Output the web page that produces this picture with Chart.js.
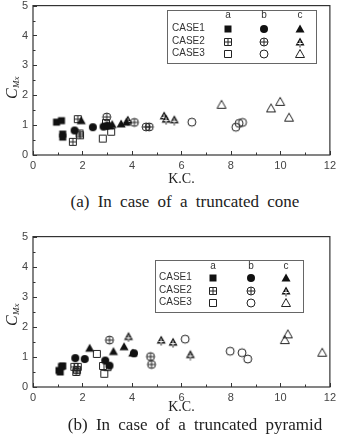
<!DOCTYPE html>
<html>
<head>
<meta charset="utf-8">
<script src="https://cdn.jsdelivr.net/npm/chart.js@4.4.1/dist/chart.umd.min.js"></script>
<style>
    body { margin: 0; background: #fff; width: 340px; height: 441px; position: relative; overflow: hidden; }
    canvas { position: absolute; left: 0; }
    #coneChart { top: -6px; }
    #pyramidChart { top: 225px; }
    .caption {
        position: absolute; left: 0; width: 340px; text-align: center;
        font-family: 'Liberation Serif', serif; font-size: 17px; color: #222;
        word-spacing: 4px; line-height: 18px; box-sizing: border-box; white-space: nowrap;
    }
</style>
</head>
<body>
<canvas id="coneChart" width="340" height="196"></canvas>
<div class="caption" id="capA" style="top:193px; padding-left:30px;">(a) In case of a truncated cone</div>
<canvas id="pyramidChart" width="340" height="197"></canvas>
<div class="caption" id="capB" style="top:416px; padding-left:50px;">(b) In case of a truncated pyramid</div>
<script>
// axis ticks
const kcTicks = [0, 2, 4, 6, 8, 10, 12];
const cmxTicks = [0, 1, 2, 3, 4, 5];

const caseNames = ['CASE1', 'CASE2', 'CASE3'];
const colNames = ['a', 'b', 'c'];

// (a) truncated cone  -- [K.C., C_Mx]
const cone1a = [[0.95, 1.1], [1.15, 1.15], [1.2, 0.7], [1.2, 0.6]];
const cone1b = [[1.68, 0.82], [2.42, 0.93], [2.85, 0.95], [3.0, 0.98]];
const cone1c = [[1.95, 1.15], [3.1, 0.97], [3.2, 1.02], [3.56, 1.04], [3.78, 1.1]];
const cone2a = [[1.81, 1.2], [1.88, 0.72], [1.9, 0.66], [1.61, 0.44]];
const cone2b = [[2.98, 1.27], [4.1, 1.09], [4.57, 0.94], [4.7, 0.94]];
const cone2c = [[3.83, 1.17], [5.3, 1.31], [5.38, 1.2], [5.71, 1.18]];
const cone3a = [[2.82, 0.55], [2.95, 1.07], [3.16, 0.78]];
const cone3b = [[6.42, 1.1], [8.2, 0.93], [8.33, 1.06], [8.47, 1.09]];
const cone3c = [[7.62, 1.68], [9.62, 1.56], [9.99, 1.78], [10.35, 1.25]];

// (b) truncated pyramid
const pyr1a = [[1.05, 0.55], [1.1, 0.5], [1.15, 0.68], [1.2, 0.7]];
const pyr1b = [[1.71, 0.96], [2.09, 0.93], [2.92, 0.88], [3.09, 0.71], [4.08, 1.12]];
const pyr1c = [[2.29, 1.29], [3.25, 1.18], [3.68, 1.34], [4.03, 1.13]];
const pyr2a = [[1.67, 0.67], [1.81, 0.67], [1.75, 0.5], [1.78, 0.56]];
const pyr2b = [[3.09, 1.56], [4.75, 1.01], [4.79, 0.75]];
const pyr2c = [[3.86, 1.68], [5.18, 1.56], [5.66, 1.49], [6.36, 1.08]];
const pyr3a = [[2.58, 1.1], [2.83, 0.7], [2.88, 0.44], [3.01, 0.66]];
const pyr3b = [[6.15, 1.59], [7.97, 1.19], [8.45, 1.14], [8.68, 0.93]];
const pyr3c = [[10.18, 1.56], [10.3, 1.75], [11.69, 1.14]];

// marker images: shape by column (a,b,c), style by case (filled, crossed, open)
function makeMarker(shape, style) {
    const c = document.createElement('canvas');
    c.width = 12; c.height = 12;
    const g = c.getContext('2d');
    g.strokeStyle = '#222';
    g.fillStyle = '#111';
    g.lineWidth = 1;
    g.beginPath();
    if (shape === 'square') g.rect(2.5, 2.5, 7, 7);
    else if (shape === 'circle') g.arc(6, 6, 4, 0, Math.PI * 2);
    else { g.moveTo(6, 1.5); g.lineTo(10.5, 9.5); g.lineTo(1.5, 9.5); g.closePath(); }
    if (style === 'filled') {
        g.fill();
    } else if (style === 'crossed' && shape === 'triangle') {
        g.fill();
        g.beginPath();
        g.strokeStyle = '#fff';
        g.moveTo(6, 4.5); g.lineTo(6, 9.5);
        g.moveTo(3.5, 7.5); g.lineTo(8.5, 7.5);
        g.stroke();
        g.strokeStyle = '#222';
        g.beginPath(); g.moveTo(6, 9.5); g.lineTo(6, 11.5); g.stroke();
    } else {
        g.stroke();
        if (style === 'crossed') {
            g.beginPath();
            g.moveTo(6, 2); g.lineTo(6, 10);
            g.moveTo(2, 6); g.lineTo(10, 6);
            g.stroke();
        }
    }
    return c;
}

const shapes = ['square', 'circle', 'triangle'];
const styles = ['filled', 'crossed', 'open'];
const markers = styles.map(st => shapes.map(sh => makeMarker(sh, st)));

function toPoints(arr) {
    return arr.map(p => ({ x: p[0], y: p[1] }));
}

function buildDatasets(groups) {
    const ds = [];
    groups.forEach((row, r) => {
        row.forEach((arr, c) => {
            ds.push({
                label: caseNames[r] + ' ' + colNames[c],
                data: toPoints(arr),
                pointStyle: markers[r][c],
                showLine: false
            });
        });
    });
    return ds;
}

// frame, inward ticks, legend box and y title
const framePlugin = {
    id: 'frame',
    afterDraw(chart, args, opts) {
        const { ctx, chartArea: a, scales: { x, y } } = chart;
        ctx.save();
        ctx.strokeStyle = '#333';
        ctx.lineWidth = 1.2;
        ctx.strokeRect(a.left, a.top, a.right - a.left, a.bottom - a.top);
        ctx.lineWidth = 1;
        ctx.beginPath();
        for (let v = 0; v <= 12; v++) {
            const px = Math.round(x.getPixelForValue(v)) + 0.5;
            const len = v % 2 === 0 ? 4 : 2.5;
            ctx.moveTo(px, a.bottom); ctx.lineTo(px, a.bottom - len);
        }
        for (let v = 0; v <= 5; v += 0.5) {
            const py = Math.round(y.getPixelForValue(v)) + 0.5;
            const len = v % 1 === 0 ? 4 : 2.5;
            ctx.moveTo(a.left, py); ctx.lineTo(a.left + len, py);
        }
        ctx.stroke();

        // y title C_Mx
        ctx.translate(13, opts.titleY);
        ctx.rotate(-Math.PI / 2);
        ctx.fillStyle = '#222';
        ctx.textBaseline = 'middle';
        ctx.textAlign = 'left';
        ctx.font = 'italic 16px "Liberation Serif", serif';
        const cw = ctx.measureText('C').width;
        ctx.font = 'italic 9px "Liberation Serif", serif';
        const sw = ctx.measureText('Mx').width;
        const x0 = -(cw + sw) / 2;
        ctx.font = 'italic 16px "Liberation Serif", serif';
        ctx.fillText('C', x0, 0);
        ctx.font = 'italic 9px "Liberation Serif", serif';
        ctx.fillText('Mx', x0 + cw + 0.5, 4);
        ctx.restore();

        // legend
        const L = opts.legend;
        ctx.save();
        ctx.strokeStyle = '#666';
        ctx.lineWidth = 1;
        ctx.strokeRect(L.left + 0.5, L.top + 0.5, L.width, L.height);
        ctx.fillStyle = '#333';
        ctx.font = '10px "Liberation Sans", Arial, sans-serif';
        ctx.textBaseline = 'middle';
        ctx.textAlign = 'center';
        colNames.forEach((n, c) => ctx.fillText(n, L.cols[c], L.headY));
        caseNames.forEach((n, r) => {
            ctx.textAlign = 'left';
            ctx.fillStyle = '#333';
            ctx.fillText(n, L.textX, L.rows[r]);
            L.cols.forEach((cx, c) => {
                ctx.drawImage(markers[r][c], Math.round(cx - 6), Math.round(L.rows[r] - 6));
            });
        });
        ctx.restore();
    }
};

function makeChart(id, groups, padTop, titlePad, legend, titleY) {
    return new Chart(document.getElementById(id), {
        type: 'scatter',
        data: { datasets: buildDatasets(groups) },
        options: {
            responsive: false,
            animation: false,
            events: [],
            layout: { padding: { top: padTop, right: 9, left: 0, bottom: 0 } },
            plugins: {
                legend: { display: false },
                tooltip: { enabled: false },
                frame: { legend: legend, titleY: titleY }
            },
            scales: {
                x: {
                    type: 'linear', min: 0, max: 12,
                    afterBuildTicks: s => { s.ticks = kcTicks.map(v => ({ value: v })); },
                    afterFit: s => { s.height = 35; },
                    grid: { display: false, drawTicks: false },
                    border: { display: false },
                    ticks: { padding: 4, color: '#444', font: { family: '"Liberation Sans", Arial, sans-serif', size: 11 } },
                    title: {
                        display: true, text: 'K.C.', color: '#222',
                        padding: { top: 0, bottom: titlePad },
                        font: { family: '"Liberation Serif", serif', size: 14 }
                    }
                },
                y: {
                    type: 'linear', min: 0, max: 5,
                    afterBuildTicks: s => { s.ticks = cmxTicks.map(v => ({ value: v })); },
                    afterFit: s => { s.width = 33; },
                    grid: { display: false, drawTicks: false },
                    border: { display: false },
                    ticks: { padding: 5, color: '#444', font: { family: '"Liberation Sans", Arial, sans-serif', size: 11 } }
                }
            }
        },
        plugins: [framePlugin]
    });
}

makeChart('coneChart',
    [[cone1a, cone1b, cone1c], [cone2a, cone2b, cone2c], [cone3a, cone3b, cone3c]],
    9, 2,
    { left: 167, top: 16, width: 149, height: 53, textX: 172, headY: 21, rows: [34.5, 47.5, 59.5], cols: [228, 264, 300] },
    94);

makeChart('pyramidChart',
    [[pyr1a, pyr1b, pyr1c], [pyr2a, pyr2b, pyr2c], [pyr3a, pyr3b, pyr3c]],
    9, 6,
    { left: 155, top: 35, width: 148, height: 52, textX: 159, headY: 41, rows: [52.5, 65.5, 77.5], cols: [213, 251, 286] },
    90);
</script>
</body>
</html>
